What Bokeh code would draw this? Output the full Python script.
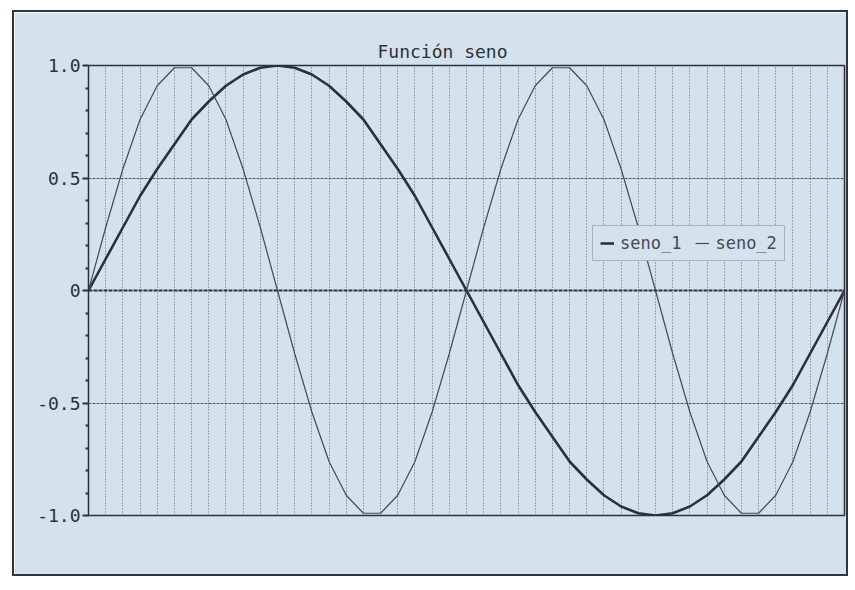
from bokeh.plotting import figure
from bokeh.models import FixedTicker, Span, Legend, LegendItem
from bokeh.embed import file_html
from bokeh.resources import INLINE

# Data: 45 sample points across the x range
puntos = list(range(45))
seno_1 = [0.0, 0.14, 0.28, 0.42, 0.54, 0.65, 0.76, 0.84, 0.91, 0.96, 0.99, 1.0,
          0.99, 0.96, 0.91, 0.84, 0.76, 0.65, 0.54, 0.42, 0.28, 0.14, 0.0,
          -0.14, -0.28, -0.42, -0.54, -0.65, -0.76, -0.84, -0.91, -0.96, -0.99, -1.0,
          -0.99, -0.96, -0.91, -0.84, -0.76, -0.65, -0.54, -0.42, -0.28, -0.14, 0.0]
seno_2 = [0.0, 0.28, 0.54, 0.76, 0.91, 0.99, 0.99, 0.91, 0.76, 0.54, 0.28, 0.0,
          -0.28, -0.54, -0.76, -0.91, -0.99, -0.99, -0.91, -0.76, -0.54, -0.28, 0.0,
          0.28, 0.54, 0.76, 0.91, 0.99, 0.99, 0.91, 0.76, 0.54, 0.28, 0.0,
          -0.28, -0.54, -0.76, -0.91, -0.99, -0.99, -0.91, -0.76, -0.54, -0.28, 0.0]
y_ticks = [-1.0, -0.5, 0.0, 0.5, 1.0]
y_tick_labels = ["-1.0", "-0.5", "0", "0.5", "1.0"]
y_minor = [-0.9, -0.8, -0.7, -0.6, -0.4, -0.3, -0.2, -0.1,
           0.1, 0.2, 0.3, 0.4, 0.6, 0.7, 0.8, 0.9]
titulo = "Función seno"

BG = "#d4e2ed"
INK = "#2b3138"
FONT = "DejaVu Sans Mono"

p = figure(width=836, height=566, output_backend="svg", toolbar_location=None,
           x_range=(0, 44), y_range=(-1.0, 1.0),
           min_border_left=74, min_border_right=6, min_border_top=53, min_border_bottom=63,
           background_fill_color=BG, border_fill_color=BG,
           outline_line_color=INK, outline_line_width=1.5)
p.margin = (10, 0, 0, 12)
p.styles = {"border": "2px solid #30363c"}

p.title.text = titulo
p.title.text_font = FONT
p.title.text_font_size = "18px"
p.title.text_font_style = "normal"
p.title.text_color = INK
p.title.align = "left"
p.title.offset = 289
p.title.standoff = 8

p.xaxis.visible = False
p.xgrid.ticker = FixedTicker(ticks=puntos)
p.xgrid.grid_line_color = "#5b6670"
p.xgrid.grid_line_dash = "1 2"
p.xgrid.grid_line_width = 1

p.yaxis.ticker = FixedTicker(ticks=y_ticks, minor_ticks=y_minor)
p.yaxis.major_label_overrides = {t: l for t, l in zip(y_ticks, y_tick_labels)}
p.yaxis.major_label_text_font = FONT
p.yaxis.major_label_text_font_size = "18px"
p.yaxis.major_label_text_color = INK
p.yaxis.major_label_standoff = 2
p.yaxis.axis_line_color = INK
p.yaxis.major_tick_line_color = INK
p.yaxis.major_tick_line_width = 2
p.yaxis.major_tick_out = 6
p.yaxis.major_tick_in = 0
p.yaxis.minor_tick_line_color = INK
p.yaxis.minor_tick_line_width = 2
p.yaxis.minor_tick_out = 3
p.yaxis.minor_tick_in = 0

p.ygrid.ticker = FixedTicker(ticks=[-0.5, 0.5])
p.ygrid.grid_line_color = "#4d5761"
p.ygrid.grid_line_dash = "3 1"
p.ygrid.grid_line_width = 1

zero = Span(location=0, dimension="width", line_color=INK, line_width=2.2, line_dash="4 1")
p.add_layout(zero)

r1 = p.line(puntos, seno_1, line_color=INK, line_width=2.6)
r2 = p.line(puntos, seno_2, line_color="#434b54", line_width=1.2)

legend = Legend(items=[LegendItem(label="seno_1", renderers=[r1]),
                       LegendItem(label="seno_2", renderers=[r2])],
                orientation="horizontal", location=(504, 254),
                label_text_font=FONT, label_text_font_size="17px", label_text_color="#434b54",
                border_line_color="#7a848e", border_line_width=1,
                background_fill_color=BG, background_fill_alpha=1.0,
                glyph_width=14, glyph_height=18, spacing=14, padding=7, margin=0,
                label_standoff=6)
p.add_layout(legend)

open("out.html", "w").write(file_html(p, INLINE))
